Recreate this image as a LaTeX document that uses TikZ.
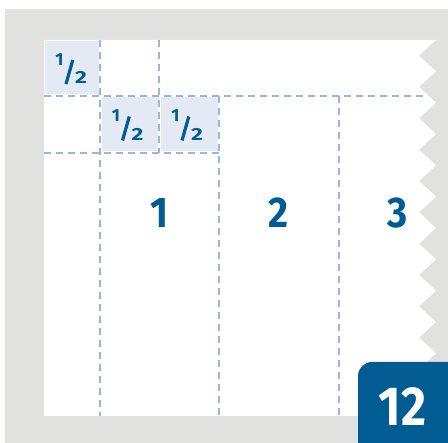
\documentclass[tikz,border=0pt]{standalone}
\usepackage{fontspec}
\setmainfont{Fira Sans}
\usepackage{graphicx}
\definecolor{bggray}{HTML}{E1E1DF}
\definecolor{darkblue}{HTML}{005C92}
\definecolor{cellblue}{HTML}{E3EAF4}
\definecolor{dashblue}{HTML}{9DB6D8}
\newcommand\narrowtext[2]{\scalebox{#1}[1]{#2}}
\tikzset{
  gridline/.style={draw=dashblue, line width=2.2pt, dash pattern=on 7pt off 5pt},
  halfcell/.style={fill=cellblue},
  fracnum/.style={inner sep=0pt, anchor=base, text=darkblue, font=\fontsize{17.5}{17.5}\selectfont\bfseries},
  fracslash/.style={draw=darkblue, line width=3.2pt},
  numlabel/.style={inner sep=0pt, anchor=base, text=darkblue, font=\fontsize{43}{43}\selectfont\bfseries},
  badgelabel/.style={inner sep=0pt, anchor=base, text=white, font=\fontsize{55}{55}\selectfont\bfseries}
}
\begin{document}
\begin{tikzpicture}[x=1pt,y=-1pt]
\useasboundingbox (0,0) rectangle (448,443);
\fill[white] (0,0) rectangle (448,443);
\fill[bggray] (5,9) rectangle (448,443);
% white sheet with torn right edge
\fill[white] (44,40) -- (436,40)
  \foreach \k in {0,...,11} { -- (419,{40+31.333*\k+15.667}) -- (436,{40+31.333*(\k+1)}) }
  -- (44,416) -- cycle;
% half cells
\fill[halfcell] (45,41) rectangle (98.5,94.5);
\fill[halfcell] (101.5,97.5) rectangle (157.5,151.5);
\fill[halfcell] (161,97.5) rectangle (217.5,151.5);
% grid
\coordinate (h1a) at (44,96);   \coordinate (h1b) at (428,96);
\coordinate (h2a) at (44,153);  \coordinate (h2b) at (219,153);
\coordinate (v1a) at (100,40);  \coordinate (v1b) at (100,416);
\coordinate (v2a) at (159,40);  \coordinate (v2b) at (159,153);
\coordinate (v3a) at (219,96);  \coordinate (v3b) at (219,416);
\coordinate (v4a) at (339,96);  \coordinate (v4b) at (339,416);
\draw[gridline] (h1a) -- (h1b);
\draw[gridline] (h2a) -- (h2b);
\draw[gridline] (v1a) -- (v1b);
\draw[gridline] (v2a) -- (v2b);
\draw[gridline] (v3a) -- (v3b);
\draw[gridline] (v4a) -- (v4b);
% fractions 1/2
\foreach \i/\cx/\cy in {a/44/40, b/100.5/96.5, c/160/96.5} {
  \node[fracnum] (num\i) at ({\cx+15.5},{\cy+25.3}) {1};
  \node[fracnum] (den\i) at ({\cx+37},{\cy+44}) {\narrowtext{1.3}{2}};
  \coordinate (sb\i) at ({\cx+22},{\cy+44});
  \coordinate (st\i) at ({\cx+28.8},{\cy+20});
  \draw[fracslash] (sb\i) -- (st\i);
}
% numbers
\node[numlabel] (n1) at (159,228) {\narrowtext{0.9}{1}};
\node[numlabel] (n2) at (279,228) {\narrowtext{0.9}{2}};
\node[numlabel] (n3) at (398,228) {\narrowtext{0.9}{3}};
% badge
\begin{scope}
\clip (0,0) rectangle (448,443);
\fill[darkblue, rounded corners=14pt] (358,362) rectangle (470,470);
\end{scope}
\node[badgelabel] (badge) at (402.5,426) {\narrowtext{0.88}{12}};
\end{tikzpicture}
\end{document}
